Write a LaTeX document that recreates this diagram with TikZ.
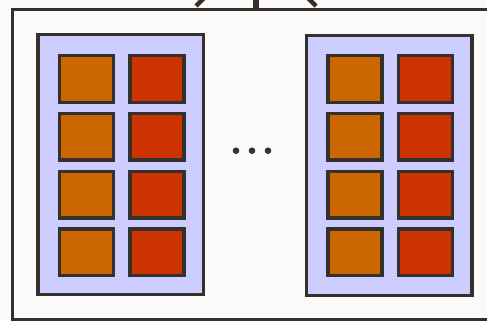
\documentclass[tikz,border=0pt]{standalone}
\usepackage{tikz}
\usetikzlibrary{positioning}
\definecolor{bgpaper}{RGB}{251,250,248}
\definecolor{edgegray}{RGB}{51,48,46}
\definecolor{panelblue}{RGB}{204,204,255}
\definecolor{cellorange}{RGB}{204,102,0}
\definecolor{cellred}{RGB}{204,51,0}
\tikzset{
	cellbox/.style={draw=edgegray, line width=3.5pt, minimum width=54pt, minimum height=46.5pt, inner sep=0pt},
	panelbox/.style={draw=edgegray, fill=panelblue, line width=3.5pt, minimum width=165.5pt, minimum height=259.5pt, inner sep=0pt}
}

\begin{document}
\begin{tikzpicture}[x=1pt,y=-1pt]
		\useasboundingbox (0,0) rectangle (487,321);
		\clip (0,0) rectangle (487,321);
		\fill[bgpaper] (0,0) rectangle (487,321);
		% outer box, it goes on past the right edge
		\node[draw=edgegray, fill=bgpaper, line width=3pt, minimum width=548pt, minimum height=309pt, inner sep=0pt] (outer) at (286,164.5) {};
		\coordinate (apex) at (256,-54);
		\coordinate (footL) at (196,6);
		\coordinate (footM) at (256,10);
		\coordinate (footR) at (316,6);
		\draw[edgegray, line width=4.5pt] (apex) -- (footL);
		\draw[edgegray, line width=5.5pt] (apex) -- (footM);
		\draw[edgegray, line width=4.5pt] (apex) -- (footR);
		\node[panelbox] (panelL) at (120.5,164.5) {};
		\node[panelbox] (panelR) at (389,165.5) {};
		\foreach \r/\yy in {1/79,2/136.8,3/194.6,4/252.4}
		{
			\node[cellbox, fill=cellorange] (La\r) at (86.5,\yy) {};
			\node[cellbox, fill=cellred] (Lb\r) at (157,\yy) {};
			\node[cellbox, fill=cellorange] (Ra\r) at (355,\yy) {};
			\node[cellbox, fill=cellred] (Rb\r) at (425.5,\yy) {};
		}
		\foreach \x in {236,252,268}
		{
			\fill[edgegray] (\x,150.7) circle (3.3pt);
		}
	\end{tikzpicture}
\end{document}
